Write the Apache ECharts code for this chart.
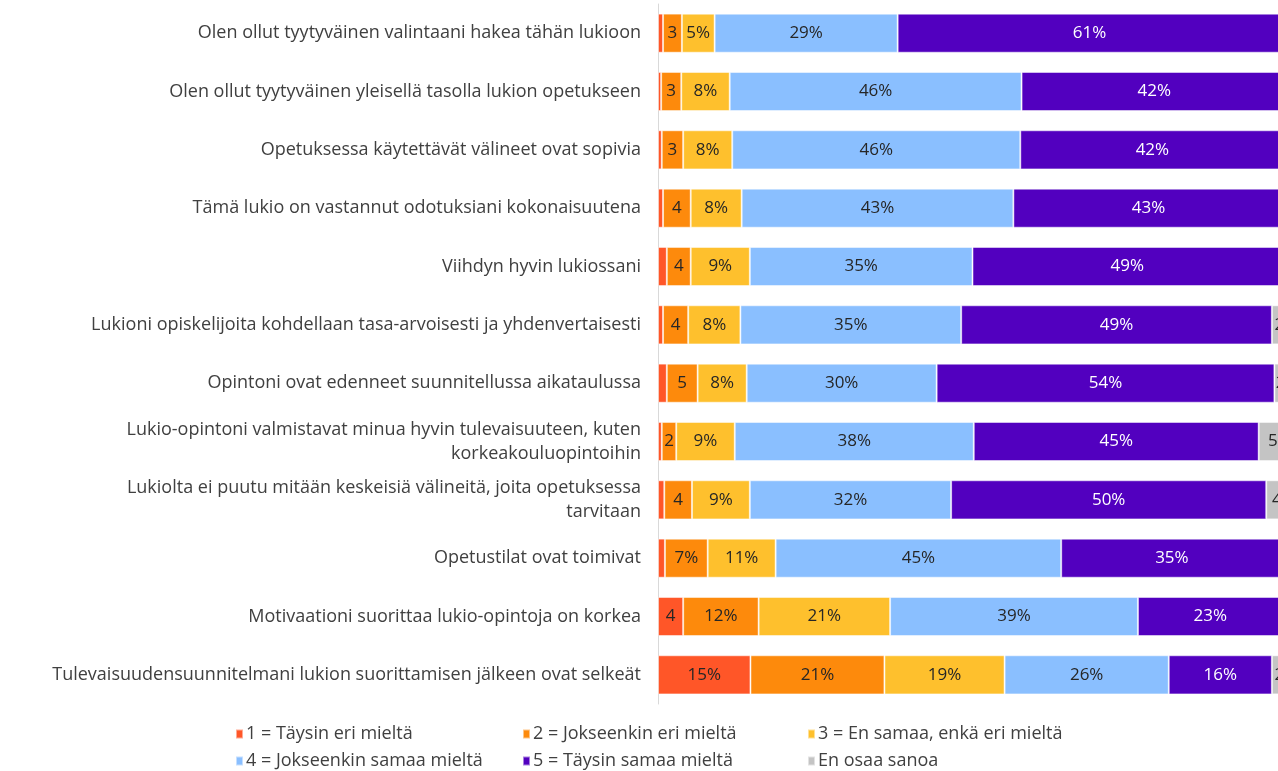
<!DOCTYPE html>
<html><head><meta charset="utf-8">
<script src="https://cdn.jsdelivr.net/npm/echarts@6/dist/echarts.min.js"></script>
<style>html,body{margin:0;padding:0;background:#fff;overflow:hidden}#c{width:1290px;height:771px}</style>
</head><body><div id="c"></div>
<script>
const categories = [
  'Olen ollut tyytyväinen valintaani hakea tähän lukioon',
  'Olen ollut tyytyväinen yleisellä tasolla lukion opetukseen',
  'Opetuksessa käytettävät välineet ovat sopivia',
  'Tämä lukio on vastannut odotuksiani kokonaisuutena',
  'Viihdyn hyvin lukiossani',
  'Lukioni opiskelijoita kohdellaan tasa-arvoisesti ja yhdenvertaisesti',
  'Opintoni ovat edenneet suunnitellussa aikataulussa',
  'Lukio-opintoni valmistavat minua hyvin tulevaisuuteen, kuten\nkorkeakouluopintoihin',
  'Lukiolta ei puutu mitään keskeisiä välineitä, joita opetuksessa\ntarvitaan',
  'Opetustilat ovat toimivat',
  'Motivaationi suorittaa lukio-opintoja on korkea',
  'Tulevaisuudensuunnitelmani lukion suorittamisen jälkeen ovat selkeät'
];
const seriesNames = [
  '1 = Täysin eri mieltä',
  '2 = Jokseenkin eri mieltä',
  '3 = En samaa, enkä eri mieltä',
  '4 = Jokseenkin samaa mieltä',
  '5 = Täysin samaa mieltä',
  'En osaa sanoa'
];
const taysinEri     = [0.8, 0.5, 0.6, 0.8, 1.4, 0.8, 1.4, 0.6, 1.0, 1.1, 4.0, 14.7];
const jokseenkinEri = [3.0, 3.2, 3.4, 4.4, 3.8, 4.0, 4.9, 2.3, 4.4, 6.8, 12.0, 21.3];
const enSamaa       = [5.2, 7.7, 7.8, 8.1, 9.4, 8.3, 7.8, 9.3, 9.2, 10.8, 20.9, 19.1];
const jokseenkinSam = [29.1, 46.4, 45.8, 43.2, 35.4, 35.1, 30.2, 38.0, 32.0, 45.4, 39.4, 26.1];
const taysinSamaa   = [61.0, 42.2, 42.0, 43.0, 49.2, 49.4, 53.7, 45.3, 50.1, 35.2, 23.0, 16.4];
const enOsaa        = [0.9, 0.0, 0.4, 0.5, 0.8, 2.4, 2.0, 4.5, 3.6, 0.7, 0.7, 2.4];

const seriesData = [taysinEri, jokseenkinEri, enSamaa, jokseenkinSam, taysinSamaa, enOsaa];
const colors = ['#ff5628', '#fd8a0c', '#fec02d', '#8abfff', '#5200bf', '#c4c4c4'];
const labelColors = ['#262626', '#262626', '#262626', '#262626', '#ffffff', '#262626'];
const FONT = '"Open Sans", sans-serif';

function fmt(p) {
  const v = p.value;
  if (v >= 5) return Math.round(v) + '%';
  if (Math.round(v) >= 2) return String(Math.round(v));
  return '';
}

const chart = echarts.init(document.getElementById('c'), null, {renderer: 'canvas'});
const legendPos = [[230, 720], [517, 720], [802, 720], [230, 747], [517, 747], [802, 747]];
chart.setOption({
  animation: false,
  color: colors,
  grid: {left: 658, right: 3, top: 4, bottom: 67, containLabel: false},
  xAxis: {type: 'value', min: 0, max: 100, show: false},
  yAxis: {
    type: 'category', data: categories, inverse: true,
    axisLine: {show: true, lineStyle: {color: '#d9d9d9', width: 1}},
    axisTick: {show: false},
    axisLabel: {fontFamily: FONT, fontSize: 18, color: '#404040', margin: 17, align: 'right', lineHeight: 24}
  },
  legend: seriesNames.map((name, i) => ({
    left: legendPos[i][0], top: legendPos[i][1], orient: 'horizontal',
    icon: 'rect', itemWidth: 7, itemHeight: 9, itemGap: 5, selectedMode: false,
    data: [name],
    textStyle: {fontFamily: FONT, fontSize: 18, color: '#404040', lineHeight: 18, padding: [0, 0, 0, -2]}
  })),
  series: seriesNames.map((name, i) => ({
    name: name, type: 'bar', stack: 'total', data: seriesData[i],
    barCategoryGap: '33%',
    itemStyle: {color: colors[i], borderColor: 'rgba(255,255,255,0.5)', borderWidth: 1},
    label: {show: true, position: 'inside', formatter: fmt, fontFamily: FONT, fontSize: 17, color: labelColors[i]}
  }))
});
</script>
</body></html>
